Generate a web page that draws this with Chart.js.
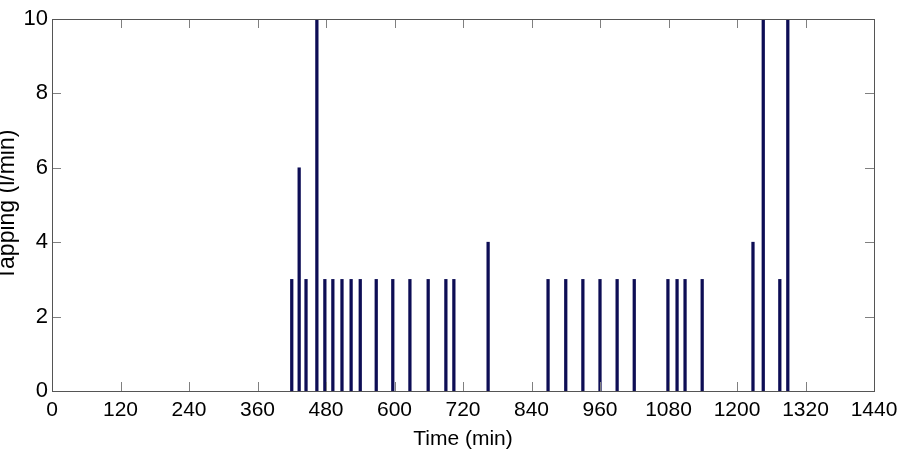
<!DOCTYPE html>
<html>
<head>
<meta charset="utf-8">
<script src="https://cdn.jsdelivr.net/npm/chart.js@4"></script>
<style>
  html, body { margin: 0; padding: 0; background: #fff; }
  canvas { display: block; }
</style>
</head>
<body>
<canvas id="c" width="899" height="455"></canvas>
<script>
// Time of each tapping event (min)
const times = [420, 433, 445, 464, 478, 492, 508, 524, 540, 568, 597, 627, 659, 690, 704, 764,
               869, 900, 930, 960, 990, 1020, 1079, 1095, 1109, 1139, 1228, 1246, 1275, 1289];
// Tapping flow (l/min)
const tapping = [3, 6, 3, 10, 3, 3, 3, 3, 3, 3, 3, 3, 3, 3, 3, 4,
                 3, 3, 3, 3, 3, 3, 3, 3, 3, 3, 4, 10, 3, 10];
const xTickStep = 120;
const yTickStep = 2;
const xLabel = 'Time (min)';
const yLabel = 'Tapping (l/min)';

const FONT = "'Liberation Sans', Arial, sans-serif";

const matlabBox = {
  id: 'matlabBox',
  afterDraw(chart) {
    const { ctx, chartArea: a, scales } = chart;
    const tl = 9;
    ctx.save();
    ctx.lineWidth = 1;
    ctx.strokeStyle = '#808080';
    ctx.beginPath();
    scales.x.ticks.forEach(t => {
      const px = Math.round(scales.x.getPixelForValue(t.value)) + 0.5;
      ctx.moveTo(px, a.bottom); ctx.lineTo(px, a.bottom - tl);
      ctx.moveTo(px, a.top); ctx.lineTo(px, a.top + tl);
    });
    scales.y.ticks.forEach(t => {
      const py = Math.round(scales.y.getPixelForValue(t.value)) + 0.5;
      ctx.moveTo(a.left, py); ctx.lineTo(a.left + tl, py);
      ctx.moveTo(a.right, py); ctx.lineTo(a.right - tl, py);
    });
    ctx.stroke();
    ctx.strokeStyle = '#555555';
    ctx.strokeRect(Math.round(a.left) + 0.5, Math.round(a.top) + 0.5,
                   Math.round(a.right - a.left), Math.round(a.bottom - a.top));
    ctx.restore();
  }
};

new Chart(document.getElementById('c'), {
  type: 'bar',
  data: {
    datasets: [{
      data: times.map((t, i) => ({ x: t, y: tapping[i] })),
      backgroundColor: '#0d0d55',
      borderWidth: 0,
      barThickness: 2.6
    }]
  },
  options: {
    responsive: false,
    animation: false,
    events: [],
    layout: { padding: { top: 19, right: 25, left: 0, bottom: 0 } },
    plugins: { legend: { display: false }, tooltip: { enabled: false } },
    scales: {
      x: {
        type: 'linear',
        min: 0, max: 1440,
        offset: false,
        grid: { display: false, drawTicks: false },
        border: { display: false },
        ticks: { stepSize: xTickStep, color: '#000', padding: 7, maxRotation: 0,
                 callback: v => String(v),
                 font: { family: FONT, size: 21 } },
        title: { display: true, text: xLabel, color: '#000',
                 font: { family: FONT, size: 21 }, padding: { top: 0, bottom: 3 } },
        afterFit(s) { s.height = 64; s.paddingRight = 0; s.paddingLeft = 0; }
      },
      y: {
        min: 0, max: 10,
        grid: { display: false, drawTicks: false },
        border: { display: false },
        ticks: { stepSize: yTickStep, color: '#000', padding: 4,
                 callback: v => String(v),
                 font: { family: FONT, size: 22 } },
        title: { display: true, text: yLabel, color: '#000',
                 font: { family: FONT, size: 23, lineHeight: 1 },
                 padding: { top: -4, bottom: 0 } },
        afterFit(s) { s.width = 52; s.paddingTop = 0; s.paddingBottom = 0; }
      }
    }
  },
  plugins: [matlabBox]
});
</script>
</body>
</html>
